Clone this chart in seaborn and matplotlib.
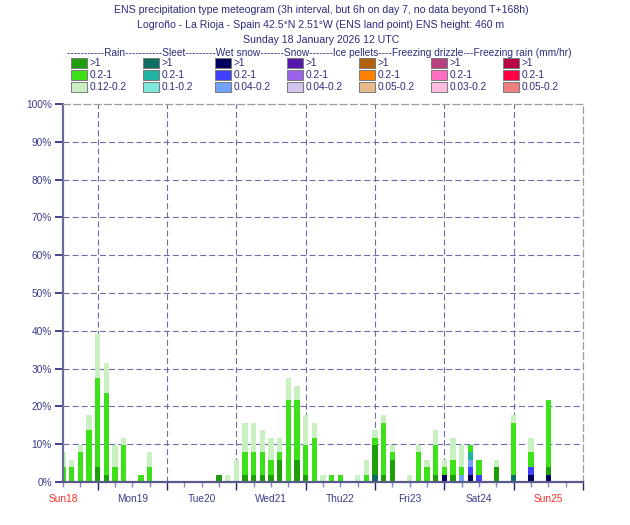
import pandas as pd
import seaborn as sns
import matplotlib.pyplot as plt
from matplotlib.patches import Rectangle

# forecast steps, hours after Sunday 18 January 2026 12 UTC (6-hourly on day 7)
hours = list(range(0, 145, 3)) + [150, 156, 162, 168]

# ensemble members (out of 51) in each class, one value per step
rain_hi = [0, 0, 0, 0, 2, 1, 0, 0, 0, 0,
           0, 0, 0, 0, 0, 0, 0, 0, 1, 0,
           0, 1, 1, 1, 1, 3, 0, 3, 1, 0,
           0, 0, 0, 0, 0, 0, 4, 1, 3, 0,
           0, 0, 0, 1, 0, 1, 0, 0, 0, 2,
           0, 0, 1]
rain_mid = [2, 2, 4, 7, 12, 11, 2, 5, 0, 1,
            2, 0, 0, 0, 0, 0, 0, 0, 0, 0,
            0, 3, 3, 3, 2, 1, 11, 8, 4, 6,
            0, 1, 1, 0, 0, 1, 1, 7, 1, 0,
            0, 4, 2, 4, 1, 2, 1, 1, 2, 0,
            7, 2, 9]
rain_lo = [2, 1, 1, 2, 6, 4, 3, 1, 0, 0,
           2, 0, 0, 0, 0, 0, 0, 0, 0, 1,
           3, 4, 4, 3, 3, 2, 3, 2, 4, 2,
           1, 0, 0, 0, 1, 2, 1, 1, 1, 0,
           1, 1, 1, 2, 1, 3, 3, 0, 0, 1,
           1, 2, 0]
sleet_hi = [0] * 36 + [1] + [0] * 13 + [1, 0, 0]
sleet_mid = [0] * 47 + [1] + [0] * 5
wsnow_hi = [0] * 44 + [1, 0, 0, 1] + [0] * 3 + [1, 1]
wsnow_mid = [0] * 47 + [1, 1, 0, 0, 1, 0]
wsnow_lo = [0] * 46 + [1, 1] + [0] * 5
N_MEMBERS = 51

day_labels = ["Sun18", "Mon19", "Tue20", "Wed21", "Thu22", "Fri23", "Sat24", "Sun25"]
y_labels = ["0%", "10%", "20%", "30%", "40%", "50%", "60%", "70%", "80%", "90%", "100%"]

legend_types = ["Rain", "Sleet", "Wet snow", "Snow", "Ice pellets",
                "Freezing drizzle", "Freezing rain"]
legend_ranges = [[">1", "0.2-1", "0.12-0.2"], [">1", "0.2-1", "0.1-0.2"],
                 [">1", "0.2-1", "0.04-0.2"], [">1", "0.2-1", "0.04-0.2"],
                 [">1", "0.2-1", "0.05-0.2"], [">1", "0.2-1", "0.03-0.2"],
                 [">1", "0.2-1", "0.05-0.2"]]
legend_colors = [["#1e9e0a", "#3ce11a", "#c8f0c0"],
                 ["#0e6e64", "#1db4a2", "#7ee8dc"],
                 ["#00005e", "#4040ff", "#72a2ff"],
                 ["#5418aa", "#9a64e8", "#d2c4ee"],
                 ["#b4620a", "#ff8000", "#e8b98a"],
                 ["#b8407e", "#ff6ec0", "#ffbce0"],
                 ["#b80046", "#ff0044", "#f08080"]]

# bottom-to-top stacking order inside a bar
stack = [("wsnow_hi", wsnow_hi, legend_colors[2][0]),
         ("wsnow_mid", wsnow_mid, legend_colors[2][1]),
         ("wsnow_lo", wsnow_lo, legend_colors[2][2]),
         ("sleet_hi", sleet_hi, legend_colors[1][0]),
         ("sleet_mid", sleet_mid, legend_colors[1][1]),
         ("rain_hi", rain_hi, legend_colors[0][0]),
         ("rain_mid", rain_mid, legend_colors[0][1]),
         ("rain_lo", rain_lo, legend_colors[0][2])]

rows = []
for name, vals, _ in stack:
    for h, v in zip(hours, vals):
        rows.append({"hour": h, "cls": name, "members": v})
dfr = pd.DataFrame(rows)
dfr["pct"] = dfr["members"] / N_MEMBERS * 100
dfr["top"] = dfr.groupby("hour")["pct"].cumsum()

sns.set_theme(style="white")
plt.rcParams["font.family"] = ["Liberation Sans", "DejaVu Sans"]

TXT = "#2c2c7c"
GRID = "#6c6cae"
W, H = 630, 525

fig = plt.figure(figsize=(6.3, 5.25), dpi=100)
ax = fig.add_axes([63 / W, 1 - 482 / H, 520 / W, 378 / H])

# stacked bars: draw cumulative tops from the highest layer down
for name, _, color in reversed(stack):
    sns.barplot(data=dfr[dfr["cls"] == name], x="hour", y="top",
                native_scale=True, color=color, saturation=1, width=0.62,
                errorbar=None, linewidth=0, ax=ax, zorder=3)

ax.set(xlabel="", ylabel="")
ax.set_xlim(0, 180)
ax.set_ylim(0, 100)

dash = (0, (5.4, 2.8))
for yv in range(10, 100, 10):
    ax.axhline(yv, color=GRID, lw=0.8, ls=dash, zorder=1)
for xv in range(12, 180, 24):
    ax.axvline(xv, color=GRID, lw=0.8, ls=dash, zorder=1)

for side in ["top", "right"]:
    ax.spines[side].set_linestyle(dash)
    ax.spines[side].set_color("#a29c9c")
    ax.spines[side].set_linewidth(0.9)
ax.spines["left"].set_color("#6b6b9b")
ax.spines["left"].set_linewidth(1.6)
ax.spines["bottom"].set_color("#5a5a8a")
ax.spines["bottom"].set_linewidth(1.6)
for s in ax.spines.values():
    s.set_zorder(5)

ax.set_yticks(range(0, 101, 10))
ax.set_yticklabels(y_labels)
ax.tick_params(axis="y", direction="out", length=6, width=1.2, color="#22227a",
               labelcolor="#3c3c8c", labelsize=7.3, pad=2, left=True)

ax.set_xticks(range(12, 181, 24))
ax.set_xticklabels([])
minor_pos = [h for h in range(0, 181, 6) if (h - 12) % 24 != 0]
minor_lab = [day_labels[h // 24] if h % 24 == 0 else "" for h in minor_pos]
ax.set_xticks(minor_pos, minor=True)
ax.set_xticklabels(minor_lab, minor=True)
ax.tick_params(axis="x", which="major", direction="out", length=6, width=1,
               color="#22227a", bottom=True)
ax.tick_params(axis="x", which="minor", direction="out", length=3.5, width=1,
               color="#8888c8", labelcolor="#3c3c8c", labelsize=7.3, pad=5,
               bottom=True)
for lab in ax.get_xticklabels(minor=True):
    if lab.get_text().startswith("Sun"):
        lab.set_color("#ff2a2a")

titles = ["ENS precipitation type meteogram (3h interval, but 6h on day 7, no data beyond T+168h)",
          "Logroño - La Rioja - Spain 42.5°N 2.51°W (ENS land point) ENS height: 460 m",
          "Sunday 18 January 2026 12 UTC"]
for i, t in enumerate(titles):
    fig.text(321 / W, 1 - (10 + 14.8 * i) / H, t, ha="center", va="center",
             color=TXT, fontsize=7.6)

header = ("-" * 11 + "Rain" + "-" * 11 + "Sleet" + "-" * 9 + "Wet snow" + "-" * 7
          + "Snow" + "-" * 7 + "Ice pellets" + "-" * 4 + "Freezing drizzle"
          + "-" * 3 + "Freezing rain (mm/hr)")
fig.text(67 / W, 1 - 52.5 / H, header, ha="left", va="center", color=TXT, fontsize=7.3)

for c in range(7):
    x0 = 71 + 72 * c
    for r in range(3):
        yc = 63 + 12 * r
        fig.add_artist(Rectangle((x0 / W, 1 - (yc + 5) / H), 16 / W, 10 / H,
                                 transform=fig.transFigure,
                                 facecolor=legend_colors[c][r],
                                 edgecolor="#7a7a7a", lw=0.7))
        fig.text((x0 + 19) / W, 1 - yc / H, legend_ranges[c][r], ha="left",
                 va="center", color=TXT, fontsize=7.3)

plt.savefig("out.png", dpi=100)
